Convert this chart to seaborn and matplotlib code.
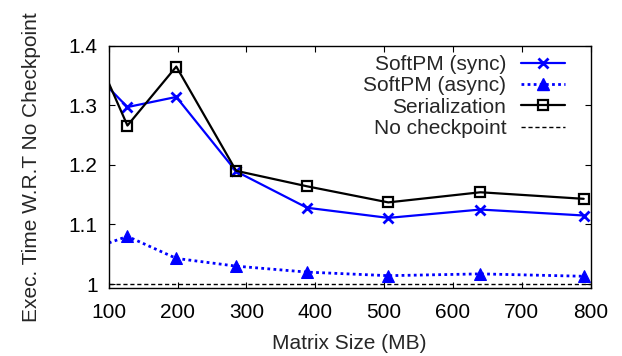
import matplotlib
matplotlib.use('Agg')
import matplotlib.pyplot as plt
import seaborn as sns
from matplotlib.lines import Line2D
from matplotlib.ticker import FuncFormatter

sns.set_style('ticks')
plt.rcParams['font.family'] = ['Liberation Sans', 'DejaVu Sans']

# ── Data ──────────────────────────────────────────────────────
# first entry is where the curves enter the plot at the left edge
matrix_mb   = [100, 127, 198, 285, 388, 506, 640, 790]
sync        = [1.329, 1.297, 1.314, 1.189, 1.128, 1.111, 1.125, 1.115]
async_      = [1.069, 1.080, 1.043, 1.030, 1.020, 1.014, 1.017, 1.013]
serial      = [1.337, 1.266, 1.365, 1.190, 1.164, 1.137, 1.154, 1.143]
no_ckpt_x   = [100, 800]
no_ckpt     = [1.0, 1.0]

BLUE = '#0000ff'
BLACK = '#000000'
FS = 15

fig = plt.figure(figsize=(6.22, 3.56), dpi=100)
ax = fig.add_axes([0.175, 0.191, 0.7745, 0.6806])

skip_first = slice(1, None)
sns.lineplot(x=no_ckpt_x, y=no_ckpt, ax=ax, color=BLACK, lw=1.0,
             linestyle=(0, (3, 2)))
sns.lineplot(x=matrix_mb, y=async_, ax=ax, color=BLUE, lw=2.0,
             linestyle=(0, (1, 1.2)), marker='^', markersize=8,
             markeredgecolor=BLUE, markevery=skip_first)
sns.lineplot(x=matrix_mb, y=sync, ax=ax, color=BLUE, lw=1.6,
             marker='x', markersize=7, markeredgewidth=2,
             markeredgecolor=BLUE, markevery=skip_first)
sns.lineplot(x=matrix_mb, y=serial, ax=ax, color=BLACK, lw=1.6,
             marker='s', markersize=7, markeredgewidth=1.6,
             markerfacecolor='none', markeredgecolor=BLACK,
             markevery=skip_first)

ax.set_xlim(100, 800)
ax.set_ylim(0.9933, 1.4)
ax.set_xticks([100, 200, 300, 400, 500, 600, 700, 800])
ax.set_yticks([1.0, 1.1, 1.2, 1.3, 1.4])
ax.yaxis.set_major_formatter(FuncFormatter(lambda v, p: f'{v:g}'))
ax.tick_params(direction='in', top=True, right=True, length=4, width=0.8,
               labelsize=FS, colors=BLACK)
ax.tick_params(axis='x', pad=10.5)
ax.tick_params(axis='y', pad=8)
for s in ax.spines.values():
    s.set_linewidth(1.0)
    s.set_color(BLACK)

ax.set_xlabel('Matrix Size (MB)', fontsize=FS, labelpad=9)
ax.set_ylabel('Exec. Time W.R.T No Checkpoint', fontsize=FS, labelpad=20)

handles = [
    Line2D([], [], color=BLUE, lw=1.6, marker='x', markersize=7,
           markeredgewidth=2),
    Line2D([], [], color=BLUE, lw=2.0, linestyle=(0, (1, 1.2)), marker='^',
           markersize=8),
    Line2D([], [], color=BLACK, lw=1.6, marker='s', markersize=7,
           markeredgewidth=1.6, markerfacecolor='none'),
    Line2D([], [], color=BLACK, lw=1.0, linestyle=(0, (3, 2))),
]
labels = ['SoftPM (sync)', 'SoftPM (async)', 'Serialization', 'No checkpoint']
ax.legend(handles, labels, loc='upper right', bbox_to_anchor=(0.9766, 1.021),
          frameon=False, markerfirst=False, fontsize=FS, handlelength=2.1,
          handletextpad=0.7, labelspacing=0.11, borderpad=0.2)

plt.savefig('out.png', dpi=100)
plt.close()
